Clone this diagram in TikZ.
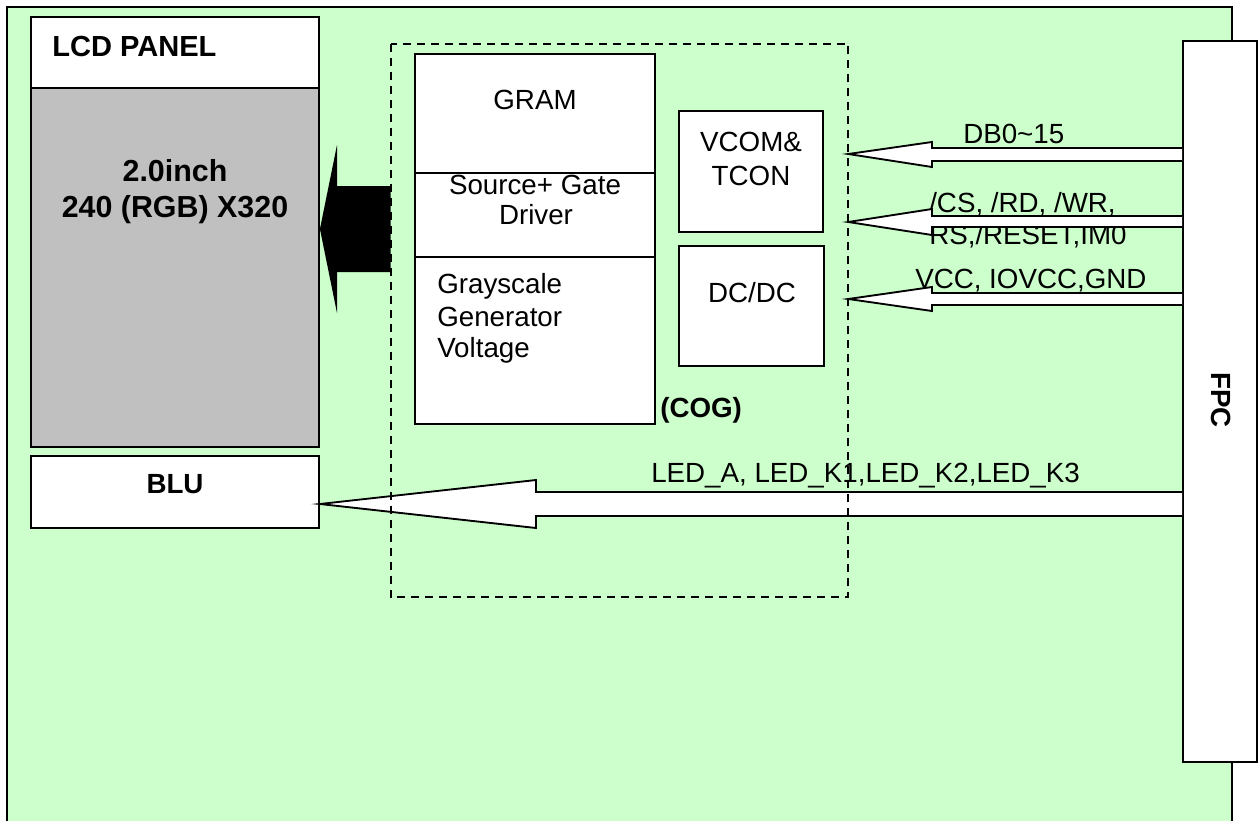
\documentclass[tikz,border=0pt]{standalone}
\usepackage{fontspec}
\setmainfont{Liberation Sans}
\usetikzlibrary{fit,calc}
\definecolor{bggreen}{RGB}{204,255,204}
\definecolor{panelgray}{RGB}{192,192,192}
\begin{document}
\begin{tikzpicture}[x=0.75pt,y=-0.75pt,line join=miter,
  box/.style={draw=black,fill=white,line width=1.4pt,inner sep=0pt},
  txt/.style={font=\fontsize{20.8pt}{24pt}\selectfont,inner sep=0pt,anchor=base},
  btxt/.style={txt,font=\fontsize{20.8pt}{24pt}\selectfont\bfseries},
  bigtxt/.style={txt,font=\fontsize{22.8pt}{26pt}\selectfont\bfseries},
  blockarrow/.style={draw=black,fill=white,line width=1.4pt},
  cogline/.style={draw=black,line width=1.4pt,dash pattern=on 6pt off 4.5pt}]
\useasboundingbox (0,0) rectangle (1259,821);
% board
\fill[bggreen] (7,7) rectangle (1232,821);
\draw[line width=1.6pt] (7,821) -- (7,7) -- (1232,7) -- (1232,821);
% invisible frame of the COG area, used as anchor
\node[inner sep=0pt,fit={(391,44) (848,597)}] (cog) {};
% LCD panel
\node[box,fit={(31,17) (319,88)}] (lcdhead) {};
\node[box,fill=panelgray,fit={(31,88) (319,447)}] (lcd) {};
\node[box,fit={(31,456) (319,528)}] (blu) {};
\node[btxt,anchor=base west,font=\fontsize{21.8pt}{24pt}\selectfont\bfseries] (lcdtitle) at (52,56) {LCD PANEL};
\node[bigtxt] (size1) at (175,181) {2.0inch};
\node[bigtxt] (size2) at (175,217) {240 (RGB) X320};
\node[btxt] (blutxt) at (175,493) {BLU};
% driver IC blocks
\node[box,fit={(415,173) (655,257)}] (src) {};
\node[txt] (srctxt1) at (535,194) {Source+ Gate};
\node[txt] (srctxt2) at (536,224) {Driver};
\node[box,fit={(415,54) (655,173)}] (gram) {};
\node[txt] (gramtxt) at (535,109) {GRAM};
\node[box,fit={(415,257) (655,424)}] (gray) {};
\node[txt,anchor=base west] (graytxt1) at (437,293) {Grayscale};
\node[txt,anchor=base west] (graytxt2) at (437,326) {Generator};
\node[txt,anchor=base west] (graytxt3) at (437,357) {Voltage};
\node[box,fit={(679,111) (823,232)}] (vcom) {};
\node[txt] (vcomtxt1) at (751,151) {VCOM\&};
\node[txt] (vcomtxt2) at (751,185) {TCON};
\node[box,fit={(679,246) (824,366)}] (dcdc) {};
\node[txt] (dcdctxt) at (752,302) {DC/DC};
\node[btxt,anchor=base west] (cogtxt) at (660,417) {(COG)};
% FPC
\node[box,fit={(1183,41) (1257,762)}] (fpc) {};
\node[btxt,rotate=-90,anchor=center] (fpctxt) at (1221,400) {FPC};
% signal labels
\node[txt,anchor=base west] (lbldb) at (963,143) {DB0\textasciitilde 15};
\node[txt,anchor=base west] (lblcs1) at (929,212) {/CS, /RD, /WR,};
\node[txt,anchor=base west] (lblcs2) at (929,244) {RS,/RESET,IM0};
\node[txt,anchor=base west] (lblpwr) at (915,288) {VCC, IOVCC,GND};
\node[txt,anchor=base west] (lblled) at (651,482) {LED\_A, LED\_K1,LED\_K2,LED\_K3};
% block arrows
\draw[blockarrow] (fpc.west |- 0,148) -- (932,148) -- (932,142) -- (cog.east |- 0,154)
  -- (932,167) -- (932,161) -- (fpc.west |- 0,161);
\draw[blockarrow] (fpc.west |- 0,216) -- (932,216) -- (932,209) -- (cog.east |- 0,222)
  -- (932,235) -- (932,227) -- (fpc.west |- 0,227);
\draw[blockarrow] (fpc.west |- 0,293) -- (932,293) -- (932,287) -- (cog.east |- 0,299)
  -- (932,311) -- (932,305) -- (fpc.west |- 0,305);
\draw[blockarrow] (fpc.west |- 0,492) -- (536,492) -- (536,480) -- (blu.east |- 0,504)
  -- (536,528) -- (536,516) -- (fpc.west |- 0,516);
\fill[black] (cog.west |- 0,186) -- (337,186) -- (337,145) -- (lcd.east |- 0,229)
  -- (337,313) -- (337,272) -- (cog.west |- 0,272) -- cycle;
% COG outline
\draw[cogline] (cog.north west) rectangle (cog.south east);
\end{tikzpicture}
\end{document}
